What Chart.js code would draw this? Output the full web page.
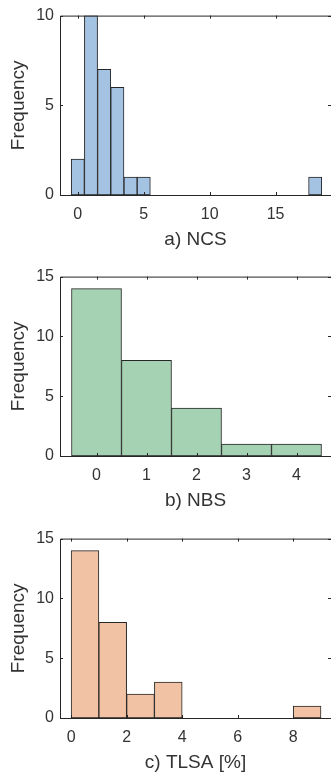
<!DOCTYPE html>
<html>
<head>
<meta charset="utf-8">
<script src="https://cdn.jsdelivr.net/npm/chart.js"></script>
<style>
  body { margin: 0; background: #fff; }
  .panel { position: absolute; left: 0; width: 331px; height: 260px; }
</style>
</head>
<body>
<div class="panel" style="top:0px"><canvas id="histNCS" width="331" height="260"></canvas></div>
<div class="panel" style="top:261px"><canvas id="histNBS" width="331" height="260"></canvas></div>
<div class="panel" style="top:523px"><canvas id="histTLSA" width="331" height="260"></canvas></div>
<script>
// bin centres and counts
const ncsBins = [0, 1, 2, 3, 4, 5, 18];
const ncsCounts = [2, 10, 7, 6, 1, 1, 1];
const ncsXTicks = [0, 5, 10, 15];
const ncsYTicks = [0, 5, 10];

const nbsBins = [0, 1, 2, 3, 4];
const nbsCounts = [14, 8, 4, 1, 1];
const nbsXTicks = [0, 1, 2, 3, 4];
const nbsYTicks = [0, 5, 10, 15];

const tlsaBins = [0.5, 1.5, 2.5, 3.5, 8.5];
const tlsaCounts = [14, 8, 2, 3, 1];
const tlsaXTicks = [0, 2, 4, 6, 8];
const tlsaYTicks = [0, 5, 10, 15];

const textColor = '#333333';
const edgeColor = '#262626';

// matlab style box: top/left/bottom lines plus inward ticks
const axisBox = {
  id: 'axisBox',
  afterDatasetsDraw(chart) {
    const ctx = chart.ctx;
    const a = chart.chartArea;
    const x = chart.scales.x;
    const y = chart.scales.y;
    const tl = 3;
    ctx.save();
    ctx.strokeStyle = edgeColor;
    ctx.lineWidth = 1;
    ctx.beginPath();
    ctx.moveTo(a.right, a.top + 0.5);
    ctx.lineTo(a.left + 0.5, a.top + 0.5);
    ctx.lineTo(a.left + 0.5, a.bottom + 0.5);
    ctx.lineTo(a.right, a.bottom + 0.5);
    x.ticks.forEach((t) => {
      const px = Math.round(x.getPixelForValue(t.value)) + 0.5;
      ctx.moveTo(px, a.bottom);
      ctx.lineTo(px, a.bottom - tl);
      ctx.moveTo(px, a.top);
      ctx.lineTo(px, a.top + tl);
    });
    y.ticks.forEach((t) => {
      const py = Math.round(y.getPixelForValue(t.value)) + 0.5;
      ctx.moveTo(a.left, py);
      ctx.lineTo(a.left + tl, py);
      ctx.moveTo(a.right, py);
      ctx.lineTo(a.right - tl, py);
    });
    ctx.stroke();
    ctx.restore();
  }
};

function makeHist(id, bins, counts, fill, xMin, xMax, xTicks, yMax, yTicks, title) {
  const ctx = document.getElementById(id);
  return new Chart(ctx, {
    type: 'bar',
    data: {
      datasets: [
        {
          data: bins.map((b, i) => ({ x: b, y: counts[i] })),
          backgroundColor: fill,
          borderColor: edgeColor,
          borderWidth: 1,
          borderSkipped: false,
          barPercentage: 1,
          categoryPercentage: 1
        }
      ]
    },
    options: {
      responsive: false,
      animation: false,
      layout: { padding: { top: 15, left: 0, right: 0, bottom: 0 } },
      plugins: { legend: { display: false }, tooltip: { enabled: false } },
      scales: {
        x: {
          type: 'linear',
          offset: false,
          min: xMin,
          max: xMax,
          grid: { display: false, drawTicks: false, offset: false },
          border: { display: false },
          afterBuildTicks: (s) => { s.ticks = xTicks.map((v) => ({ value: v })); },
          afterFit: (s) => { s.height = 65; },
          ticks: {
            padding: 10,
            color: textColor,
            font: { family: 'Liberation Sans', size: 16 },
            maxRotation: 0
          },
          title: {
            display: true,
            text: title,
            color: textColor,
            font: { family: 'Liberation Sans', size: 19 },
            padding: { top: 0, bottom: 9 }
          }
        },
        y: {
          min: 0,
          max: yMax,
          grid: { display: false, drawTicks: false },
          border: { display: false },
          afterBuildTicks: (s) => { s.ticks = yTicks.map((v) => ({ value: v })); },
          afterFit: (s) => { s.width = 60; },
          ticks: {
            padding: 6,
            color: textColor,
            font: { family: 'Liberation Sans', size: 16 }
          },
          title: {
            display: true,
            text: 'Frequency',
            color: textColor,
            font: { family: 'Liberation Sans', size: 19 },
            padding: { top: 7, bottom: 0 }
          }
        }
      }
    },
    plugins: [axisBox]
  });
}

makeHist('histNCS', ncsBins, ncsCounts, '#a4c2e2', -1.35, 19.2, ncsXTicks, 10, ncsYTicks, 'a) NCS');
makeHist('histNBS', nbsBins, nbsCounts, '#a4d2b3', -0.73, 4.69, nbsXTicks, 15, nbsYTicks, 'b) NBS');
makeHist('histTLSA', tlsaBins, tlsaCounts, '#f1c2a4', -0.4, 9.36, tlsaXTicks, 15, tlsaYTicks, 'c) TLSA [%]');
</script>
</body>
</html>
